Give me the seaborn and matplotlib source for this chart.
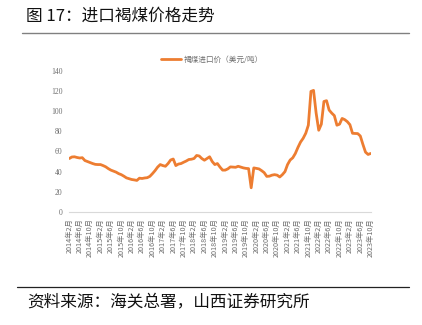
import matplotlib
matplotlib.use("Agg")
import matplotlib.pyplot as plt
from matplotlib.lines import Line2D
import seaborn as sns
import pandas as pd

# Monthly lignite import price, Feb 2014 - Oct 2023 (USD/t)
start_year, start_month = 2014, 2
price = [
    53, 54.5, 54.7, 54, 53.5, 53.8, 51, 50, 49, 48,
    47.2, 47, 47, 46, 44.8, 43, 41.5, 40.5, 39.5, 38,
    37, 35.5, 33.8, 33, 32.2, 31.8, 31.3, 33.5, 33.2, 33.7,
    34, 35.3, 38, 41, 44.5, 47, 46, 45.3, 48, 51.5,
    52.5, 46, 47.5, 48, 49.3, 50.5, 52, 52.3, 53, 56,
    55.5, 53, 51.3, 53, 54.7, 50, 47, 48, 44.5, 41.5,
    41.5, 42.7, 44.7, 44.5, 44.3, 45.3, 44.5, 43.7, 43.2, 43,
    24, 43.7, 43.2, 42.7, 41, 39, 35.3, 35.5, 36.5, 37,
    36.5, 34.7, 37, 40, 47, 51.5, 53.7, 58, 64, 69.3,
    73, 78, 86, 119.5, 120.5, 98, 81, 87, 109.5, 110.3,
    101, 98, 95.5, 86, 87, 92.7, 91.5, 89.5, 86.5, 78,
    77.8, 77.7, 75.3, 67, 59.3, 57, 58,
]
month_labels = []
y, m = start_year, start_month
for _ in price:
    month_labels.append(f"{y}年{m}月")
    m += 1
    if m > 12:
        m, y = 1, y + 1

series_name = "褐煤进口价（美元/吨）"
title_text = "图 17：进口褐煤价格走势"
source_text = "资料来源：海关总署，山西证券研究所"
y_ticks = [0, 20, 40, 60, 80, 100, 120, 140]

df = pd.DataFrame({"idx": range(len(price)), "price": price})

sns.set_theme(style="white")
plt.rcParams["font.family"] = ["Liberation Serif", "Noto Sans CJK SC", "DejaVu Sans"]

LINE = "#ED7D31"
GREY = "#6E6E6E"

fig = plt.figure(figsize=(4.22, 3.25), dpi=100)
ax = fig.add_axes([69.3 / 422, 1 - 212 / 325, (370.7 - 69.3) / 422, (212 - 70.7) / 325])

sns.lineplot(data=df, x="idx", y="price", ax=ax, color=LINE, linewidth=2.0, legend=False)

ax.set_xlim(0, len(price) - 1)
ax.set_ylim(0, 140)
ax.set_yticks(y_ticks)
ax.set_yticklabels([str(v) for v in y_ticks], fontsize=5.5, color=GREY,
                   family=["Liberation Serif"])
tick_pos = list(range(0, len(price), 4))
ax.set_xticks(tick_pos)
ax.set_xticklabels([month_labels[i] for i in tick_pos], rotation=90, fontsize=5.2,
                   color=GREY, family=["Noto Sans CJK SC", "DejaVu Sans"])
ax.set_xlabel("")
ax.set_ylabel("")
for s in ["top", "right", "left"]:
    ax.spines[s].set_visible(False)
ax.spines["bottom"].set_color("#D9D9D9")
ax.spines["bottom"].set_linewidth(0.8)
ax.tick_params(axis="x", direction="out", length=2.5, width=0.6, color="#D9D9D9", pad=2)
ax.tick_params(axis="y", length=0, pad=5)
ax.grid(False)

handle = Line2D([0], [0], color=LINE, linewidth=2.0)
fig.legend([handle], [series_name], loc="center", bbox_to_anchor=(212 / 422, 1 - 60 / 325),
           frameon=False, handlelength=2.6, handletextpad=0.3,
           prop={"family": ["Noto Sans CJK SC"], "size": 5.5}, labelcolor=GREY)

fig.text(26 / 422, 1 - 16 / 325, title_text, fontsize=12, va="center", ha="left",
         color="#111111", family=["Noto Sans CJK SC"])
fig.add_artist(Line2D([22 / 422, 409 / 422], [1 - 33 / 325, 1 - 33 / 325],
                      color="#808080", linewidth=1.0))
fig.add_artist(Line2D([17 / 422, 409 / 422], [1 - 287 / 325, 1 - 287 / 325],
                      color="#222222", linewidth=0.9))
fig.text(27 / 422, 1 - 303 / 325, source_text, fontsize=12, va="center", ha="left",
         color="#111111", family=["Noto Sans CJK SC"])

fig.savefig("out.png", dpi=100)
